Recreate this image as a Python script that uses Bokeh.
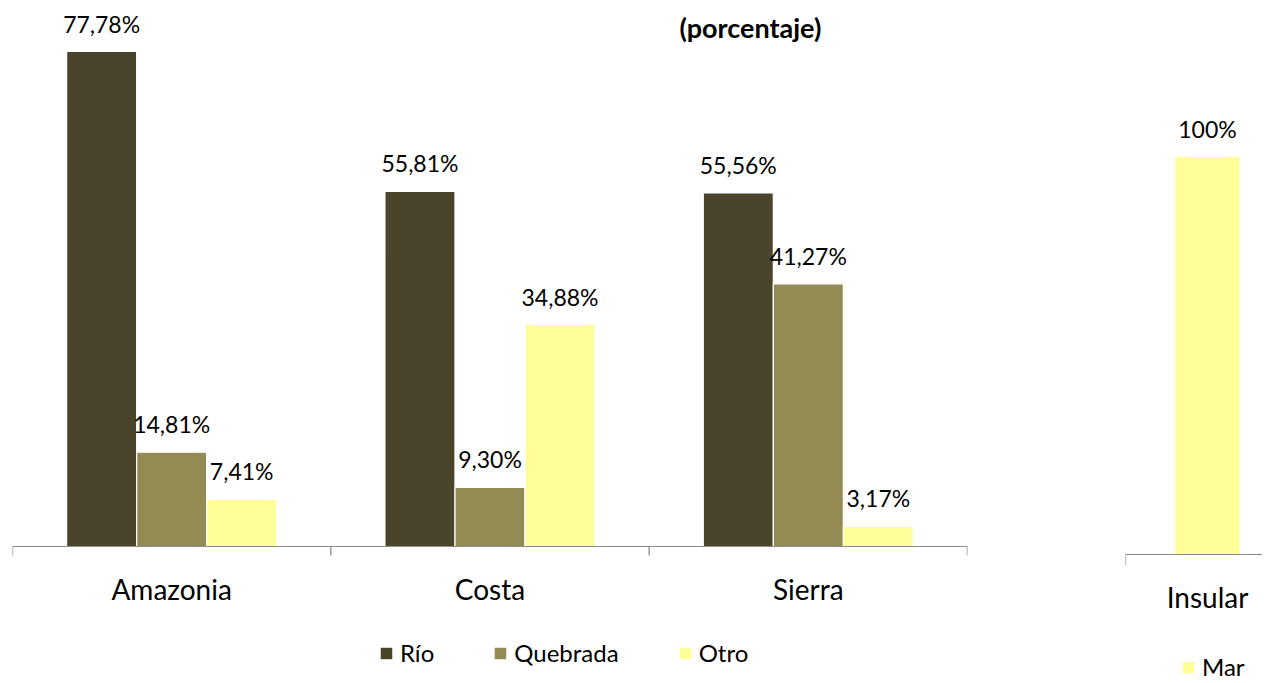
from bokeh.plotting import figure
from bokeh.layouts import row
from bokeh.models import (ColumnDataSource, Range1d, Label, Legend, LegendItem, LabelSet, Span)
from bokeh.core.properties import value
from bokeh.embed import file_html
from bokeh.resources import INLINE

# ---- data ----
regiones = ["Amazonia", "Costa", "Sierra"]
series = ["Río", "Quebrada", "Otro"]
rio = [77.78, 55.81, 55.56]
quebrada = [14.81, 9.30, 41.27]
otro = [7.41, 34.88, 3.17]
rio_lbl = ["77,78%", "55,81%", "55,56%"]
quebrada_lbl = ["14,81%", "9,30%", "41,27%"]
otro_lbl = ["7,41%", "34,88%", "3,17%"]

insular = ["Insular"]
serie_insular = ["Mar"]
mar = [100]
mar_lbl = ["100%"]

titulo = "(porcentaje)"

colores = ["#4a442a", "#948a54", "#ffff99"]
FONT = "Lato"
AXIS_COLOR = "#8c8c8c"


def base_fig(width, height, xr, yr, left, right):
    f = figure(width=width, height=height, output_backend="svg", toolbar_location=None,
               x_range=xr, y_range=yr, min_border_left=left, min_border_right=right,
               min_border_top=0, min_border_bottom=0)
    f.outline_line_color = None
    f.grid.visible = False
    f.xaxis.visible = False
    f.yaxis.visible = False
    f.background_fill_color = None
    f.border_fill_color = None
    return f


def category_axis(f, cats, px_per_unit, tick_px, label_offset):
    # axis line at the baseline
    f.add_layout(Span(location=0, dimension="width", line_color=AXIS_COLOR, line_width=1))
    # boundary ticks between categories
    bounds = [i - 0.5 for i in range(len(cats) + 1)]
    f.segment(x0=bounds, x1=bounds, y0=[0] * len(bounds),
              y1=[-tick_px / px_per_unit] * len(bounds), line_color=AXIS_COLOR, line_width=1.3)
    src = ColumnDataSource(dict(x=list(range(len(cats))), y=[0] * len(cats), t=cats))
    f.add_layout(LabelSet(x="x", y="y", text="t", source=src, text_align="center",
                          text_baseline="middle", y_offset=-label_offset,
                          text_font=value(FONT), text_font_size="28px", text_color="#000000"))


def make_legend(items, loc, spacing=58):
    return Legend(items=items, location=loc, orientation="horizontal", padding=0, margin=0,
                  border_line_color=None, background_fill_alpha=0, glyph_width=16,
                  glyph_height=16, label_standoff=6, spacing=spacing, label_text_font=FONT,
                  label_text_font_size="24px", label_text_color="#000000", label_height=24)


# ---- left figure ----
PX_L = 6.364
p = base_fig(1092, 667, Range1d(-0.5, 2.5), Range1d(-(668 - 547) / PX_L, (547 - 1) / PX_L), 12, 125)

w = 0.22
offs = [-0.22, 0.0, 0.22]
vals = [rio, quebrada, otro]
lbls = [rio_lbl, quebrada_lbl, otro_lbl]
items = []
for name, v, lb, c, o in zip(series, vals, lbls, colores, offs):
    src = ColumnDataSource(dict(x=[i + o for i in range(len(regiones))], top=v, lbl=lb))
    r = p.vbar(x="x", top="top", width=w, bottom=0, source=src, fill_color=c,
               line_color="white", line_width=1.2)
    items.append(LegendItem(label=name, renderers=[r]))
    p.add_layout(LabelSet(x="x", y="top", text="lbl", source=src, text_align="center",
                          text_baseline="bottom", y_offset=14, text_font=value(FONT),
                          text_font_size="23px", text_color="#000000"))

category_axis(p, regiones, PX_L, 9, 42)

p.add_layout(Label(x=1.818, y=81.5, text=titulo, text_align="center", text_baseline="middle",
                   text_font=FONT, text_font_size="27px", text_font_style="bold",
                   text_color="#000000"))

p.add_layout(make_legend(items, (366, 0)), "center")

# ---- right figure ----
PX_R = 3.98
q = base_fig(170, 682, Range1d(-0.5, -0.5 + 137 / 164),
             Range1d(-(683 - 555) / PX_R, (555 - 1) / PX_R), 33, 0)

src2 = ColumnDataSource(dict(x=list(range(len(insular))), top=mar, lbl=mar_lbl))
r2 = q.vbar(x="x", top="top", width=0.40, bottom=0, source=src2, fill_color=colores[2],
            line_color="white", line_width=1.2)
q.add_layout(LabelSet(x="x", y="top", text="lbl", source=src2, text_align="center",
                      text_baseline="bottom", y_offset=14, text_font=value(FONT),
                      text_font_size="23px", text_color="#000000"))
category_axis(q, insular, PX_R, 11, 42)

q.add_layout(make_legend([LegendItem(label=serie_insular[0], renderers=[r2])], (55, 1)), "center")

layout = row(p, q)
open("out.html", "w").write(file_html(layout, INLINE))
